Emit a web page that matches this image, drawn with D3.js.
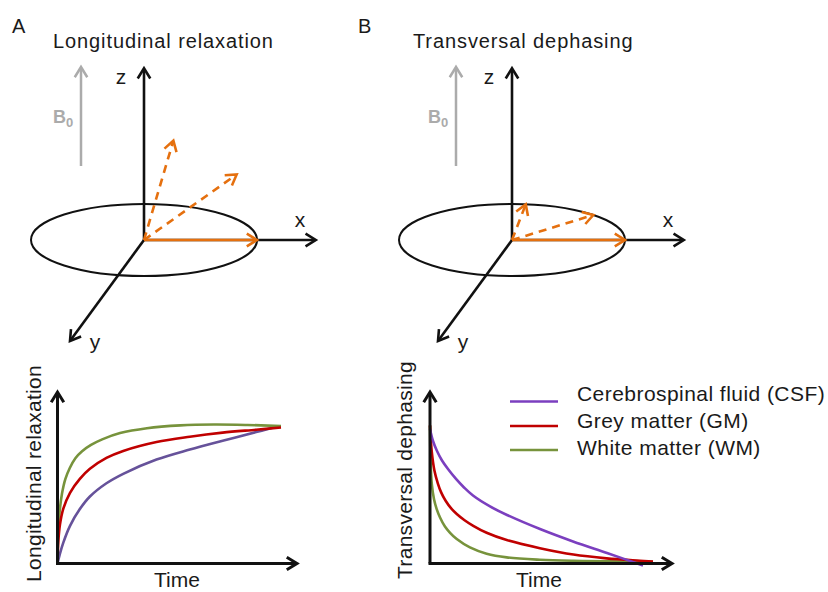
<!DOCTYPE html>
<html>
<head>
<meta charset="utf-8">
<script src="https://cdn.jsdelivr.net/npm/d3@7"></script>
<style>
  body { margin: 0; background: #fff; }
  text { font-family: "Liberation Sans", Arial, sans-serif; fill: #1a1a1a; }
</style>
</head>
<body>
<svg id="fig" width="828" height="592"></svg>
<script>
// ---- Relaxation curves: [time, signal] in arbitrary units (0–100) ----
const longitudinalCSF = [[0,0],[1.1,7.1],[2.6,15],[5.6,27],[10,39],[14.5,48],[21.9,57.5],[29.4,64.3],[44.3,74.5],[59.2,81.7],[73.9,88],[88.9,94.2],[96.2,97.3]];
const longitudinalGM  = [[0,0],[0.4,16.4],[1.1,27.9],[2.6,39.3],[5.6,50.7],[10,60.7],[14.5,67.9],[21.9,75.7],[29.4,80.7],[44.3,87.1],[59.2,90.9],[73.9,93.8],[88.9,95.9],[100,97.5]];
const longitudinalWM  = [[0,0],[0.3,22],[1,38],[2,50],[3.5,60.5],[5.5,68.5],[8,75.5],[11,80.5],[15,85],[20,89],[28,93.5],[40,97],[55,99],[70,99.6],[85,99.3],[100,98.6]];

const transversalCSF = [[0,96.4],[1.35,87.8],[3.14,80.6],[5.38,73.8],[8.07,67.7],[11.66,60.6],[15.25,54.5],[19.28,48.7],[26.91,40.9],[34.53,34.8],[49.33,24.7],[64.13,15.8],[79.37,7.5],[95.52,-1.4]];
const transversalGM  = [[0,99],[0.8,80],[2,66.5],[3.5,57.5],[5,51],[7,45],[9.5,39.5],[12,35.5],[15.5,31],[19.4,27],[25.4,22],[34.4,16.8],[49.3,11],[64.3,6.4],[79.2,3.7],[94.2,2],[100,1.4]];
const transversalWM  = [[0,99],[0.3,72],[0.8,57],[1.8,46],[3,39],[4.5,33],[6.7,26.5],[9,22],[12,17.5],[17.9,11.5],[25.4,7],[34.4,4.4],[49.3,2.7],[64.3,1.9],[80,1.5],[100,1.3]];

const tissueNames = ["Cerebrospinal fluid (CSF)", "Grey matter (GM)", "White matter (WM)"];
const colorsLongitudinal = ["#66529A", "#C00000", "#77933C"];
const colorsTransversal  = ["#7B3FBF", "#C00000", "#77933C"];

const panelLetters = ["A", "B"];
const panelTitles  = ["Longitudinal relaxation", "Transversal dephasing"];
const chartYLabels = ["Longitudinal relaxation", "Transversal dephasing"];
const chartXLabel  = "Time";
const axisNames    = ["x", "y", "z"];

// Magnetisation vectors: (x, z) components tipping back to the z axis,
// and phase angles (deg) fanning out in the transverse plane
const tiltedVectors = [[1, 0], [0.82, 0.58], [0.26, 0.88]];
const phaseAngles   = [0, 44, 83];

const ORANGE = "#E5700F";
const GREY = "#ABABAB";

const svg = d3.select("#fig");

// open chevron arrow head at (x2, y2) pointing away from (x1, y1)
function arrowHead(g, x1, y1, x2, y2, color, width, size = 12, spread = 0.55) {
  const a = Math.atan2(y2 - y1, x2 - x1);
  const p = d3.path();
  p.moveTo(x2 - size * Math.cos(a - spread), y2 - size * Math.sin(a - spread));
  p.lineTo(x2, y2);
  p.lineTo(x2 - size * Math.cos(a + spread), y2 - size * Math.sin(a + spread));
  g.append("path").attr("d", p.toString()).attr("fill", "none")
    .attr("stroke", color).attr("stroke-width", width)
    .attr("stroke-linejoin", "miter");
}
function arrow(g, x1, y1, x2, y2, color, width, dash) {
  const a = Math.atan2(y2 - y1, x2 - x1);
  g.append("line")
    .attr("x1", x1).attr("y1", y1)
    .attr("x2", x2 - Math.cos(a) * 1.5).attr("y2", y2 - Math.sin(a) * 1.5)
    .attr("stroke", color).attr("stroke-width", width)
    .attr("stroke-dasharray", dash || null);
  arrowHead(g, x1, y1, x2, y2, color, width);
}

// ---------------- Vector diagrams ----------------
const diagrams = [
  { origin: [144, 240], b0x: 81, letterX: 12, titleX: 53 },
  { origin: [512, 240], b0x: 456, letterX: 358, titleX: 413 }
];

diagrams.forEach((d, i) => {
  const g = svg.append("g");
  const [ox, oy] = d.origin;
  const sx = d3.scaleLinear([0, 1], [ox, ox + 113]);
  const sz = d3.scaleLinear([0, 1], [oy, oy - 113]);
  const sy = d3.scaleLinear([0, 1], [oy, oy - 36]);   // depth in the transverse plane

  g.append("text").attr("x", d.letterX).attr("y", 33)
    .style("font-size", "20px").text(panelLetters[i]);
  g.append("text").attr("x", d.titleX).attr("y", 48)
    .style("font-size", "20px").style("letter-spacing", "0.9px").text(panelTitles[i]);

  // B0 field arrow
  arrow(g, d.b0x, 166, d.b0x, 67, GREY, 2.5);
  const b0 = g.append("text").attr("x", d.b0x - 28).attr("y", 123)
    .style("font-size", "18px").style("font-weight", "bold").style("fill", GREY);
  b0.append("tspan").text("B");
  b0.append("tspan").attr("dy", 4).style("font-size", "13px").text("0");

  // transverse plane
  g.append("ellipse").attr("cx", ox).attr("cy", oy)
    .attr("rx", sx(1) - ox).attr("ry", oy - sy(1))
    .attr("fill", "none").attr("stroke", "#111").attr("stroke-width", 2);

  // coordinate axes
  arrow(g, ox, oy, ox, sz(1.52), "#111", 2.6);
  arrow(g, ox, oy, sx(1.52), oy, "#111", 2.6);
  arrow(g, ox, oy, ox - 74, oy + 101, "#111", 2.6);

  const axLabel = (t, x, y) => g.append("text").attr("x", x).attr("y", y)
    .attr("text-anchor", "middle").style("font-size", "21px").text(t);
  axLabel(axisNames[2], ox - 23, 84);
  axLabel(axisNames[0], sx(1.38), 227);
  axLabel(axisNames[1], ox - 49, 349);

  // magnetisation vectors
  if (i === 0) {
    tiltedVectors.forEach((v, k) => {
      arrow(g, ox, oy, sx(v[0]), sz(v[1]), ORANGE, 2.6, k === 0 ? null : "8,6");
    });
  } else {
    phaseAngles.forEach((deg, k) => {
      const r = deg * Math.PI / 180;
      arrow(g, ox, oy, sx(Math.cos(r)), sy(Math.sin(r)), ORANGE, 2.6, k === 0 ? null : "8,6");
    });
  }
});

// ---------------- Relaxation charts ----------------
const charts = [
  { x0: 57.5, x1: 281, xTip: 297, yLabelX: 41, series: [longitudinalCSF, longitudinalWM, longitudinalGM],
    colors: [colorsLongitudinal[0], colorsLongitudinal[2], colorsLongitudinal[1]], timeX: 177 },
  { x0: 430, x1: 653, xTip: 672, yLabelX: 412, series: [transversalWM, transversalGM, transversalCSF],
    colors: [colorsTransversal[2], colorsTransversal[1], colorsTransversal[0]], timeX: 539 }
];
const yBase = 563.5;

charts.forEach((c, i) => {
  const g = svg.append("g");
  const x = d3.scaleLinear([0, 100], [c.x0, c.x1]);
  const y = d3.scaleLinear([0, 100], [yBase, 424]);
  const line = d3.line().x(d => x(d[0])).y(d => y(d[1])).curve(d3.curveCatmullRom.alpha(0.5));

  c.series.forEach((s, k) => {
    g.append("path").attr("d", line(s)).attr("fill", "none")
      .attr("stroke", c.colors[k]).attr("stroke-width", 2.6);
  });

  // axes with open arrow heads
  arrow(g, c.x0, yBase, c.x0, 392, "#111", 3);
  arrow(g, c.x0 - 1.5, yBase, c.xTip, yBase, "#111", 3);

  g.append("text").attr("x", c.timeX).attr("y", 587).attr("text-anchor", "middle")
    .style("font-size", "21px").text(chartXLabel);
  g.append("text").attr("transform", `translate(${c.yLabelX},${i === 0 ? 473.5 : 470}) rotate(-90)`)
    .attr("text-anchor", "middle").style("font-size", "21px").style("letter-spacing", "0.3px")
    .text(chartYLabels[i]);
});

// legend
const legend = svg.append("g");
const legendLineY = [401.5, 426, 450];
const legendTextY = [401, 428, 455];
tissueNames.forEach((name, k) => {
  legend.append("line").attr("x1", 510).attr("x2", 558)
    .attr("y1", legendLineY[k]).attr("y2", legendLineY[k])
    .attr("stroke", colorsTransversal[k]).attr("stroke-width", 2.6);
  legend.append("text").attr("x", 577).attr("y", legendTextY[k])
    .style("font-size", "21px").style("letter-spacing", "0.45px").text(name);
});
</script>
</body>
</html>
